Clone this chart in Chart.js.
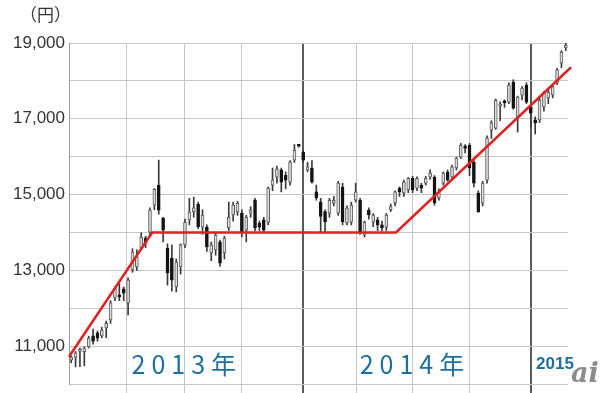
<!DOCTYPE html>
<html>
<head>
<meta charset="utf-8">
<script src="https://cdn.jsdelivr.net/npm/chart.js@4.4.0/dist/chart.umd.min.js"></script>
<style>
  html, body { margin: 0; padding: 0; background: #fff; }
</style>
</head>
<body>
<canvas id="nikkei" width="600" height="393"></canvas>
<script>
// weekly candles, Jan 2013 - Feb 2015 (yen)
const OPEN = [
  10630,10710,10860,10850,10980,11270,11350,11270,11480,11690,12270,12350,12510,12140,13010,13090,13590,13850,14010,14720,
  15250,14380,13590,13320,12560,13090,13670,14330,14550,14750,14140,14140,13460,13540,13750,13460,14120,14460,14540,14510,
  14060,14510,14850,14250,14330,14270,15250,15460,15650,15510,15330,15910,16300,
  16120,15650,15700,15070,14810,14550,14510,14770,14510,15200,14250,14280,14850,14850,13930,14590,14270,14330,14200,14140,
  14600,14780,15170,15040,15120,15430,15170,15250,15300,15460,15460,14910,15300,15590,15460,15700,15990,16260,16300,15860,
  15040,14780,15380,16700,16750,17340,17460,17440,17970,17040,17620,17890,
  17310,16970,16970,17310,17550,17630,17940,18470,18870
];
const HIGH = [
  10740,10860,10950,10980,11260,11450,11400,11500,11660,12200,12560,12650,12560,12800,13570,13540,13990,13900,14650,15160,
  15910,14400,13700,13670,13300,13700,14350,14900,14930,14800,14600,14200,13750,14000,13800,13900,14800,14800,14820,14600,
  14450,14680,14900,14300,14400,15200,15700,15750,15700,15600,15900,16320,16320,
  16170,15850,15900,15250,14900,14600,14900,14950,15350,15300,14700,14800,15300,14900,14300,14650,14500,14400,14300,14500,
  14750,15100,15200,15380,15450,15480,15470,15300,15480,15650,15500,15150,15600,15650,15780,15990,16350,16320,16350,15900,
  15100,15350,16550,16950,17520,17450,17500,17950,18030,17600,17850,17950,
  17330,17050,17550,17720,17800,17900,18330,18800,19000
];
const LOW = [
  10560,10450,10460,10480,10950,11050,11130,11220,11220,11600,12200,12200,12200,11820,12950,13000,13550,13600,13900,14600,
  14480,13750,12610,12450,12430,12900,13600,14200,14400,14100,13950,13500,13250,13400,13100,13300,14050,14300,14450,13880,
  13750,14400,14050,14050,14000,14200,15100,15300,15070,15150,15250,15850,16250,
  15850,15600,15300,14850,14020,14000,14400,14700,14450,14200,14200,14200,14800,13950,13880,14350,14150,14050,14050,14050,
  14550,14700,14950,14950,15050,15050,15100,15050,15250,15400,14720,14850,15250,15350,15420,15650,15950,16100,15500,15200,
  14530,14700,15300,16480,16720,16950,17300,17400,17250,16650,17500,17400,
  16780,16600,16900,17200,17400,17550,17900,18350,18800
];
const CLOSE = [
  10710,10820,10900,10950,11210,11130,11210,11420,11600,12140,12530,12300,12400,12740,13480,13350,13880,13720,14590,15140,
  14590,14060,12930,12740,13220,13670,14270,14540,14650,14150,14460,13620,13670,13930,13190,13850,14400,14720,14770,14010,
  14400,14590,14120,14140,14060,15170,15380,15670,15330,15380,15860,16170,16280,
  15910,15730,15330,14910,14420,14280,14850,14850,15300,14280,14640,14720,15070,14010,14270,14460,14460,14200,14120,14460,
  14680,15070,15070,15330,15430,15120,15430,15170,15430,15570,14780,15070,15570,15380,15730,15960,16300,16220,15700,15300,
  14540,15300,16490,16890,17490,17380,17420,17890,17280,17570,17810,17440,
  17150,16890,17490,17680,17700,17840,18290,18760,18940
];

// vertical grid positions (in candle units) and the two year boundaries
const GRID_X = [13.25, 26.3, 39.3, 53.5, 65.6, 78.4, 91.4, 105.5];
const YEAR_LINES = [53.5, 105.5];

// hand-drawn trend line
const TREND_X = [0, 19, 74.7, 114.7];
const TREND_Y = [10720, 14000, 14000, 18360];

const YEAR_TEXT = ['2013年', '2014年', '2015'];
const YEAR_AT = [14.3, 66.4, 106.7];

const N = OPEN.length;
const up = OPEN.map((o, i) => CLOSE[i] >= o);

const wicks = LOW.map((l, i) => ({ x: i + 0.5, y: [l, HIGH[i]] }));
const bodies = OPEN.map((o, i) => ({ x: i + 0.5, y: [Math.min(o, CLOSE[i]), Math.max(o, CLOSE[i])] }));
const trend = TREND_X.map((x, i) => ({ x, y: TREND_Y[i] }));

const isYear = c => !!(c && c.tick && YEAR_LINES.includes(c.tick.value));

const textPlugin = {
  id: 'labels',
  afterDraw(chart) {
    const { ctx, scales: { x } } = chart;
    ctx.save();
    ctx.fillStyle = '#333';
    ctx.font = '17px "Noto Sans CJK JP"';
    ctx.textBaseline = 'alphabetic';
    ctx.fillText('（円）', 20, 21);

    ctx.fillStyle = '#1c6fa0';
    YEAR_TEXT.forEach((t, i) => {
      const px = x.getPixelForValue(YEAR_AT[i]);
      if (t.endsWith('年')) {
        ctx.font = '25px "Noto Sans CJK JP"';
        ctx.letterSpacing = '6px';
        ctx.fillText(t, px, 374);
      } else {
        ctx.font = 'bold 17px "Liberation Sans"';
        ctx.letterSpacing = '0px';
        ctx.fillText(t, px, 369);
      }
    });

    ctx.letterSpacing = '0px';
    ctx.fillStyle = '#8c8c8c';
    ctx.font = 'italic bold 27px "DejaVu Serif"';
    ctx.fillText('ai', 571, 382);
    ctx.restore();
  }
};

new Chart(document.getElementById('nikkei').getContext('2d'), {
  type: 'bar',
  data: {
    datasets: [
      {
        label: 'trend',
        type: 'line',
        data: trend,
        borderColor: '#dd2222',
        borderWidth: 2.5,
        pointRadius: 0,
        fill: false,
        clip: false,
        order: 0,
      },
      {
        label: 'body',
        data: bodies,
        backgroundColor: up.map(u => u ? '#dedede' : '#141414'),
        borderColor: up.map(u => u ? '#5c5c5c' : '#141414'),
        borderWidth: 1,
        borderSkipped: false,
        barThickness: 3,
        minBarLength: 2,
        grouped: false,
        order: 1,
      },
      {
        label: 'wick',
        data: wicks,
        backgroundColor: '#3a3a3a',
        borderWidth: 0,
        barThickness: 1,
        grouped: false,
        order: 2,
      }
    ]
  },
  options: {
    responsive: false,
    animation: false,
    devicePixelRatio: 1,
    layout: { padding: { top: 43, right: 32, left: 0, bottom: 0 } },
    plugins: { legend: { display: false }, tooltip: { enabled: false } },
    scales: {
      x: {
        type: 'linear',
        min: 0,
        max: N,
        offset: false,
        afterBuildTicks: s => { s.ticks = GRID_X.map(v => ({ value: v })); },
        afterFit: s => { s.height = 9; s.paddingLeft = 0; s.paddingRight = 0; },
        ticks: { display: false },
        border: { display: false },
        grid: {
          offset: false,
          drawTicks: true,
          tickLength: 9,
          color: c => isYear(c) ? '#5a5a5a' : '#c6c6c6',
          lineWidth: c => isYear(c) ? 2 : 1,
        }
      },
      y: {
        min: 10000,
        max: 19000,
        afterFit: s => { s.width = 69; s.paddingTop = 0; s.paddingBottom = 0; },
        ticks: {
          stepSize: 1000,
          padding: 4,
          color: '#333',
          font: { family: '"Liberation Sans", Arial', size: 17 },
          callback: v => (v / 1000) % 2 === 1 ? v.toLocaleString('en-US') : '',
        },
        border: { display: true, color: '#9a9a9a', width: 1 },
        grid: { color: '#c6c6c6', drawTicks: false }
      }
    }
  },
  plugins: [textPlugin]
});
</script>
</body>
</html>
